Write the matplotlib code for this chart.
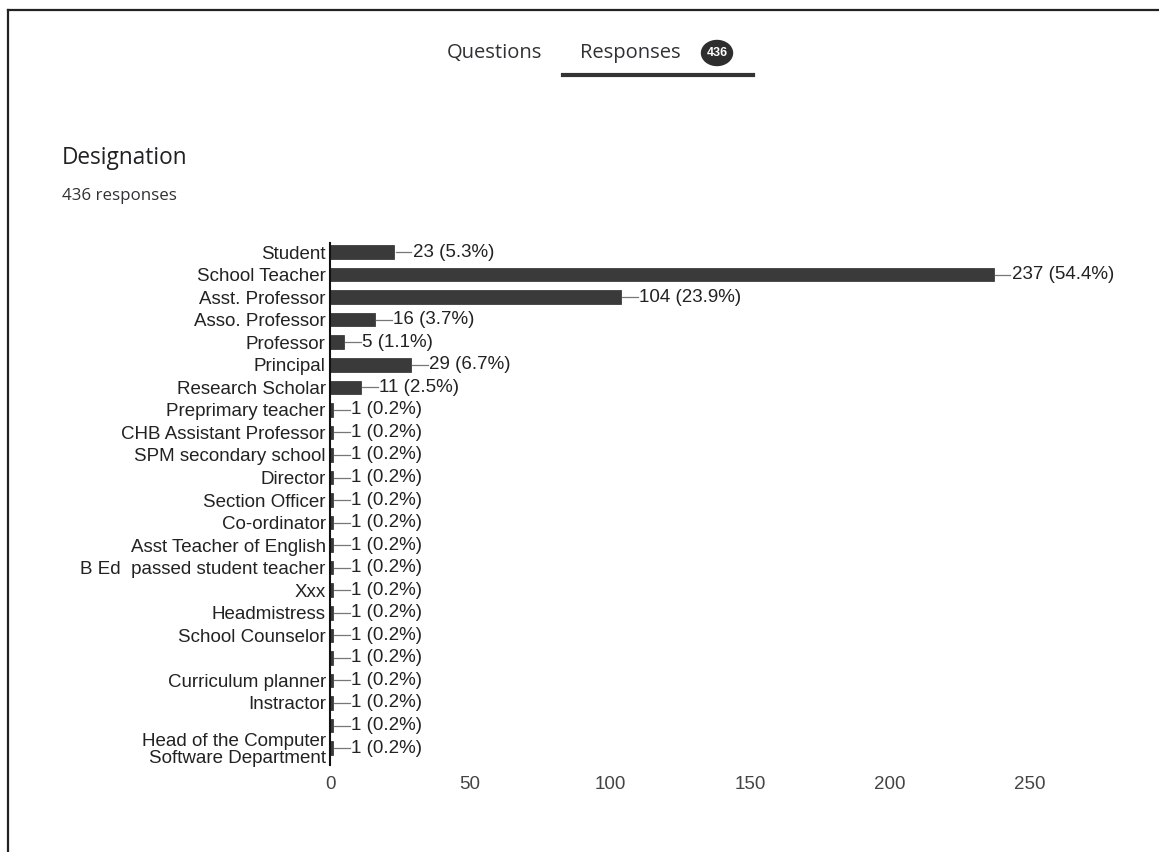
import matplotlib
matplotlib.use("Agg")
import matplotlib.pyplot as plt
from matplotlib.lines import Line2D
from matplotlib.patches import Ellipse

# ---- data
categories = ["Student", "School Teacher", "Asst. Professor", "Asso. Professor",
              "Professor", "Principal", "Research Scholar", "Preprimary teacher",
              "CHB Assistant Professor", "SPM secondary school", "Director",
              "Section Officer", "Co-ordinator", "Asst Teacher of English",
              "B Ed  passed student teacher", "Xxx", "Headmistress", "School Counselor",
              "", "Curriculum planner", "Instractor", "",
              "Head of the Computer\nSoftware Department"]
counts = [23, 237, 104, 16, 5, 29, 11, 1, 1, 1, 1, 1, 1, 1, 1, 1, 1, 1, 1, 1, 1, 1, 1]
percents = [5.3, 54.4, 23.9, 3.7, 1.1, 6.7, 2.5] + [0.2] * 16
xticks = [0, 50, 100, 150, 200, 250]
total_responses = 436

W, H = 1159, 852
fig = plt.figure(figsize=(W / 100, H / 100), dpi=100)
plt.rcParams['font.family'] = ['Liberation Sans', 'DejaVu Sans']
head_font = ["Open Sans", "DejaVu Sans"]

def fx(px):
	return px / W

def fy(py):
	return 1 - py / H

# ---- frame of the screenshot
fig.add_artist(Line2D([fx(8), fx(1159)], [fy(10), fy(10)], color="#222222", lw=1.6))
fig.add_artist(Line2D([fx(8), fx(8)], [fy(10), fy(852)], color="#222222", lw=1.6))

# ---- tabs header
fig.text(fx(494), fy(53), "Questions", ha="center", va="center", fontsize=14.5,
         family=head_font, fontweight="medium", color="#303134")
fig.text(fx(630), fy(53), "Responses", ha="center", va="center", fontsize=14.5,
         family=head_font, fontweight="medium", color="#303134")
fig.add_artist(Ellipse((fx(717), fy(53)), fx(31), 25 / H, color="#2e2e2e"))
fig.text(fx(717), fy(53), str(total_responses), ha="center", va="center", fontsize=9,
         color="white", fontweight="bold")
fig.add_artist(Line2D([fx(563), fx(753)], [fy(75), fy(75)], color="#333333", lw=3))

fig.text(fx(62), fy(158), "Designation", ha="left", va="center", fontsize=16.3,
         family=head_font, color="#202124")
fig.text(fx(62), fy(196), "%d responses" % total_responses, ha="left", va="center",
         fontsize=12.2, family=head_font, fontweight="medium", color="#303134")

# ---- bar chart
ax = fig.add_axes([fx(330), 1 - 765 / H, fx(784), (765 - 243) / H])
ypos = list(range(len(categories)))
ax.barh(ypos, counts, height=0.6, color="#3a3a3a", edgecolor="#2a2a2a", linewidth=0.5)

leader = 6.0
for y, c, p in zip(ypos, counts, percents):
	ax.plot([c + 0.4, c + leader], [y, y], color="#777777", lw=0.9)
	ax.text(c + leader + 0.5, y, "%d (%.1f%%)" % (c, p), va="center", ha="left",
	        fontsize=13.5, color="#222222")

ax.set_xlim(0, 280)
ax.set_ylim(22.75, -0.4)
ax.set_yticks(ypos)
ax.set_yticklabels(categories, fontsize=13.5, color="#222222", linespacing=1.0)
ax.set_xticks(xticks)
ax.set_xticklabels([str(t) for t in xticks], fontsize=13.5, color="#444444")
ax.tick_params(axis="both", length=0, pad=3)
ax.tick_params(axis="x", pad=8)
for side in ["top", "right", "bottom"]:
	ax.spines[side].set_visible(False)
ax.spines["left"].set_color("#111111")
ax.spines["left"].set_linewidth(1.5)

fig.savefig("out.png", dpi=100)
